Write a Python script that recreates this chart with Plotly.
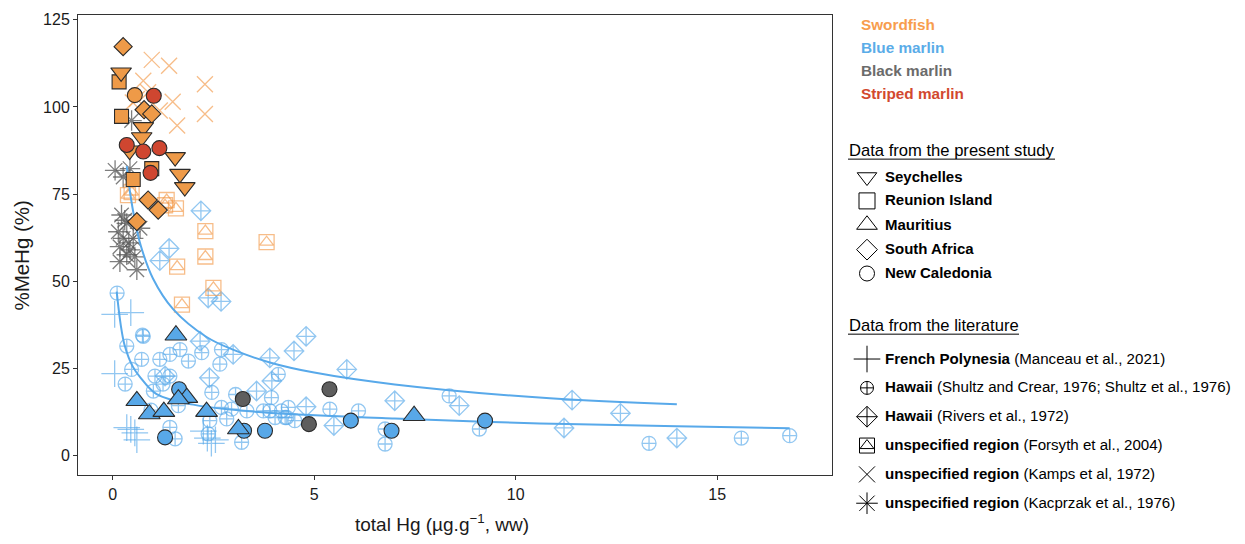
import plotly.graph_objects as go

W, H = 1245, 544

# ---------------- data ----------------
# Present study (filled symbols)
sword_sey_x = [0.21, 0.76, 0.72, 1.55, 1.67, 1.79, 0.42]
sword_sey_y = [109.9, 94.2, 91.3, 85.6, 80.8, 77.0, 87.5]
sword_reu_x = [0.16, 0.22, 0.97, 0.51]
sword_reu_y = [107.2, 97.3, 82.3, 79.2]
sword_saf_x = [0.26, 0.78, 0.97, 0.88, 1.13, 0.60]
sword_saf_y = [117.3, 99.2, 98.0, 73.3, 70.4, 67.1]
sword_nc_x = [0.55]
sword_nc_y = [103.4]

striped_nc_x = [1.02, 0.35, 0.76, 1.16, 0.94]
striped_nc_y = [103.2, 89.1, 87.2, 88.2, 81.1]

blue_mau_x = [1.57, 1.84, 1.63, 0.60, 0.91, 1.27, 2.33, 3.12, 7.48]
blue_mau_y = [34.5, 16.6, 16.2, 15.7, 11.9, 12.6, 12.6, 7.6, 11.4]
blue_nc_x = [1.65, 1.30, 3.26, 3.78, 5.91, 6.92, 9.24]
blue_nc_y = [19.0, 5.2, 7.1, 7.1, 10.0, 7.1, 10.0]

black_nc_x = [3.23, 5.38, 4.87]
black_nc_y = [16.2, 19.0, 9.0]

# Literature (open symbols)
fp_x = [0.05, 0.45, 0.05, 0.35, 0.45, 0.55, 0.60, 2.25, 2.35, 2.45, 2.55]
fp_y = [40.5, 41.0, 23.5, 8.0, 7.5, 6.5, 4.5, 7.0, 5.0, 3.5, 4.5]

hw_shultz_x = [0.11, 0.74, 0.76, 0.35, 1.42, 1.67, 1.17, 0.72, 1.88, 2.21, 2.70, 2.66,
               0.47, 1.05, 1.42, 0.31, 1.01, 2.46, 1.63, 2.70, 2.95, 3.33, 3.74, 4.19,
               4.03, 4.32, 2.41, 2.83, 1.42, 1.55, 3.20, 2.37, 4.11, 3.94, 3.90, 4.36,
               4.28, 4.52, 5.39, 6.10, 6.76, 6.76, 8.35, 9.10, 13.31, 15.60, 16.80,
               1.25, 3.05, 0.95]
hw_shultz_y = [46.6, 34.5, 34.2, 31.4, 29.0, 30.4, 27.6, 27.6, 27.1, 29.5, 30.4, 26.2,
               24.7, 22.8, 22.8, 20.5, 18.5, 18.1, 14.3, 13.8, 13.3, 12.8, 12.8, 12.8,
               10.9, 10.9, 10.0, 10.5, 8.1, 4.8, 3.8, 6.2, 23.3, 16.6, 12.8, 13.8,
               10.9, 10.0, 13.3, 12.8, 7.6, 3.3, 17.1, 7.6, 3.5, 5.0, 5.7,
               20.5, 17.5, 13.0]

hw_rivers_x = [2.19, 1.40, 1.17, 2.37, 2.69, 2.17, 2.99, 3.90, 2.40, 1.30, 3.57, 3.95,
               4.80, 4.50, 5.81, 7.00, 8.60, 4.80, 5.49, 11.40, 12.60, 11.20, 14.00]
hw_rivers_y = [70.2, 59.4, 55.9, 45.2, 44.2, 32.8, 29.0, 28.0, 22.3, 22.8, 18.5, 21.4,
               34.2, 30.0, 24.7, 15.7, 14.3, 14.0, 8.6, 15.9, 12.1, 7.9, 5.0]

forsyth_x = [0.38, 1.30, 1.57, 2.30, 2.30, 1.60, 2.50, 1.72, 3.82, 0.47, 1.34]
forsyth_y = [74.7, 71.8, 70.9, 64.4, 57.1, 54.2, 48.1, 43.3, 61.2, 75.6, 73.3]

kamps_x = [0.97, 1.40, 2.29, 0.76, 1.49, 0.60, 2.29, 1.60, 1.17, 0.50, 0.88]
kamps_y = [113.5, 111.8, 106.5, 107.5, 101.5, 102.3, 98.0, 94.7, 99.0, 101.3, 104.2]

kacprzak_x = [0.47, 0.06, 0.26, 0.43, 0.22, 0.35, 0.14, 0.26, 0.51, 0.18, 0.43, 0.18,
              0.60, 0.35, 0.68, 0.30, 0.40, 0.55]
kacprzak_y = [96.1, 81.8, 79.9, 82.3, 69.0, 66.6, 64.2, 62.3, 62.3, 59.9, 59.0, 55.6,
              53.3, 57.6, 65.2, 67.5, 61.0, 57.0]

# Fitted curves
fit_upper_x = [0.35, 0.43, 0.55, 0.70, 1.00, 1.50, 2.33, 3.00, 3.90, 5.00, 7.00, 10.85, 14.00]
fit_upper_y = [83.0, 75.6, 67.5, 60.1, 50.8, 42.0, 34.0, 30.3, 26.7, 23.8, 20.4, 16.4, 14.7]
fit_lower_x = [0.10, 0.20, 0.30, 0.50, 0.68, 1.09, 2.00, 3.00, 4.40, 7.00, 10.60, 14.00, 16.80]
fit_lower_y = [47.0, 37.5, 31.5, 25.5, 22.5, 17.6, 14.6, 13.1, 11.9, 10.6, 9.2, 8.4, 7.8]

x_ticks = [0, 5, 10, 15]
y_ticks = [0, 25, 50, 75, 100, 125]

species_labels = ["Swordfish", "Blue marlin", "Black marlin", "Striped marlin"]
present_labels = ["Seychelles", "Reunion Island", "Mauritius", "South Africa", "New Caledonia"]
literature_labels = [
    "<b>French Polynesia</b> (Manceau et al., 2021)",
    "<b>Hawaii</b> (Shultz and Crear, 1976; Shultz et al., 1976)",
    "<b>Hawaii</b> (Rivers et al., 1972)",
    "<b>unspecified region</b> (Forsyth et al., 2004)",
    "<b>unspecified region</b> (Kamps et al, 1972)",
    "<b>unspecified region</b> (Kacprzak et al., 1976)",
]

# ---------------- styles ----------------
ORANGE = "#F39A4A"
ORANGE_FILL = "#EE9A48"
BLUE = "#58A9EA"
BLUE_FILL = "#58A8E8"
GRAY = "#5E5E5E"
RED = "#CF4630"
EDGE = "#2B2B2B"
FONT = "Arial, Liberation Sans, sans-serif"

fig = go.Figure()

def lit(x, y, symbol, color, size, opacity=0.65, width=1.3):
    fig.add_trace(go.Scatter(
        x=x, y=y, mode="markers", showlegend=False, hoverinfo="skip",
        marker=dict(symbol=symbol, size=size, color=color, opacity=opacity,
                    line=dict(color=color, width=width))))

def filled(x, y, symbol, color, size):
    fig.add_trace(go.Scatter(
        x=x, y=y, mode="markers", showlegend=False, hoverinfo="skip",
        marker=dict(symbol=symbol, size=size, color=color,
                    line=dict(color=EDGE, width=1.1))))

# literature
lit(hw_shultz_x, hw_shultz_y, "circle-cross-open", BLUE, 14)
lit(hw_rivers_x, hw_rivers_y, "diamond-cross-open", BLUE, 15)
lit(fp_x, fp_y, "cross-thin-open", BLUE, 19)
lit(forsyth_x, forsyth_y, "square-open", ORANGE, 15)
lit(forsyth_x, forsyth_y, "triangle-up-open", ORANGE, 12)
lit(kamps_x, kamps_y, "x-thin-open", ORANGE, 16)
lit(kacprzak_x, kacprzak_y, "asterisk-open", GRAY, 17, opacity=0.8)

# fitted curves
fig.add_trace(go.Scatter(x=fit_upper_x, y=fit_upper_y, mode="lines", line=dict(color=BLUE, width=2, shape="spline"),
                         showlegend=False, hoverinfo="skip"))
fig.add_trace(go.Scatter(x=fit_lower_x, y=fit_lower_y, mode="lines", line=dict(color=BLUE, width=2, shape="spline"),
                         showlegend=False, hoverinfo="skip"))

# present study
filled(blue_nc_x, blue_nc_y, "circle", BLUE_FILL, 15)
filled(blue_mau_x, blue_mau_y, "triangle-up", BLUE_FILL, 19)
filled(black_nc_x, black_nc_y, "circle", GRAY, 15)
filled(sword_saf_x, sword_saf_y, "diamond", ORANGE_FILL, 14)
filled(sword_reu_x, sword_reu_y, "square", ORANGE_FILL, 14)
filled(sword_sey_x, sword_sey_y, "triangle-down", ORANGE_FILL, 18)
filled(sword_nc_x, sword_nc_y, "circle", ORANGE_FILL, 15)
filled(striped_nc_x, striped_nc_y, "circle", RED, 15)

# ---------------- layout ----------------
L, R, T, B = 78, 832, 12, 475
def px(x):
    return x / W
def py(y):
    return 1 - y / H

axis_common = dict(showgrid=False, zeroline=False, showline=True, mirror=True, linecolor="#333333",
                   linewidth=1, ticks="outside", ticklen=4, tickcolor="#333333", tickwidth=1,
                   tickfont=dict(family=FONT, size=16, color="#1a1a1a"))

fig.update_layout(
    width=W, height=H, margin=dict(l=0, r=0, t=0, b=0),
    paper_bgcolor="white", plot_bgcolor="rgba(0,0,0,0)",
    font=dict(family=FONT),
    xaxis=dict(domain=[px(L), px(R)], range=[-0.86, 17.85], tickvals=x_ticks, anchor="y", **axis_common),
    yaxis=dict(domain=[py(B), py(T)], range=[-5.7, 126.4], tickvals=y_ticks, anchor="x", **axis_common),
    xaxis2=dict(domain=[0, 1], range=[0, W], visible=False, anchor="y2", fixedrange=True),
    yaxis2=dict(domain=[0, 1], range=[H, 0], visible=False, anchor="x2", fixedrange=True),
    showlegend=False,
)

ann = []
# axis titles
ann.append(dict(text="total Hg (µg.g<sup>−1</sup>, ww)", x=px(442), y=py(523), xref="paper", yref="paper",
                showarrow=False, font=dict(family=FONT, size=19, color="#1a1a1a"), xanchor="center", yanchor="middle"))
ann.append(dict(text="%MeHg (%)", x=px(22), y=py(254), xref="paper", yref="paper", textangle=-90,
                showarrow=False, font=dict(family=FONT, size=20.5, color="#1a1a1a"), xanchor="center", yanchor="middle"))

# species legend (coloured text)
species_colors = ["#F79D4E", "#5AACE8", "#6B6B6B", "#D2492F"]
species_y = [22, 45, 68, 91]
for lab, c, yy in zip(species_labels, species_colors, species_y):
    ann.append(dict(text="<b>%s</b>" % lab, x=px(859), y=py(yy), xref="paper", yref="paper", showarrow=False,
                    xanchor="left", yanchor="middle", font=dict(family=FONT, size=15.3, color=c)))

# present-study legend
ann.append(dict(text="Data from the present study", x=px(847), y=py(148), xref="paper", yref="paper",
                showarrow=False, xanchor="left", yanchor="middle", font=dict(family=FONT, size=16.6, color="black")))
present_y = [174, 198, 223, 247, 271]
for lab, yy in zip(present_labels, present_y):
    ann.append(dict(text="<b>%s</b>" % lab, x=px(883), y=py(yy), xref="paper", yref="paper", showarrow=False,
                    xanchor="left", yanchor="middle", font=dict(family=FONT, size=15, color="black")))

ann.append(dict(text="Data from the literature", x=px(847), y=py(324), xref="paper", yref="paper",
                showarrow=False, xanchor="left", yanchor="middle", font=dict(family=FONT, size=16.6, color="black")))
lit_y = [357, 386, 415, 444, 473, 502]
for lab, yy in zip(literature_labels, lit_y):
    ann.append(dict(text=lab, x=px(883), y=py(yy), xref="paper", yref="paper", showarrow=False,
                    xanchor="left", yanchor="middle", font=dict(family=FONT, size=15.1, color="black")))

fig.update_layout(annotations=ann)

# underlines of legend titles
fig.add_shape(type="line", xref="paper", yref="paper", x0=px(848), x1=px(1055), y0=py(157), y1=py(157),
              line=dict(color="black", width=1))
fig.add_shape(type="line", xref="paper", yref="paper", x0=px(848), x1=px(1019), y0=py(333), y1=py(333),
              line=dict(color="black", width=1))

# legend keys (drawn on a pixel-space overlay axis)
key_x = 867
present_syms = ["triangle-down-open", "square-open", "triangle-up-open", "diamond-open", "circle-open"]
present_sizes = [17, 16, 18, 16, 15]
present_key_y = [175, 199, 223, 248, 272]
for s, sz, yy in zip(present_syms, present_sizes, present_key_y):
    fig.add_trace(go.Scatter(x=[key_x], y=[yy], xaxis="x2", yaxis="y2", mode="markers", showlegend=False,
                             hoverinfo="skip", marker=dict(symbol=s, size=sz, color="black",
                                                           line=dict(color="black", width=1))))
lit_syms = [["cross-thin-open"], ["circle-cross-open"], ["diamond-cross-open"],
            ["square-open", "triangle-up-open"], ["x-thin-open"], ["asterisk-open"]]
lit_sizes = [[19], [13], [16], [15, 12], [16], [18]]
lit_key_y = [358, 387, 416, 445, 474, 503]
for syms, szs, yy in zip(lit_syms, lit_sizes, lit_key_y):
    for s, sz in zip(syms, szs):
        fig.add_trace(go.Scatter(x=[key_x], y=[yy], xaxis="x2", yaxis="y2", mode="markers", showlegend=False,
                                 hoverinfo="skip", marker=dict(symbol=s, size=sz, color="black",
                                                               line=dict(color="black", width=1))))

fig.write_html("out.html", config={"displayModeBar": False},
               post_script="document.body.style.margin='0';")
